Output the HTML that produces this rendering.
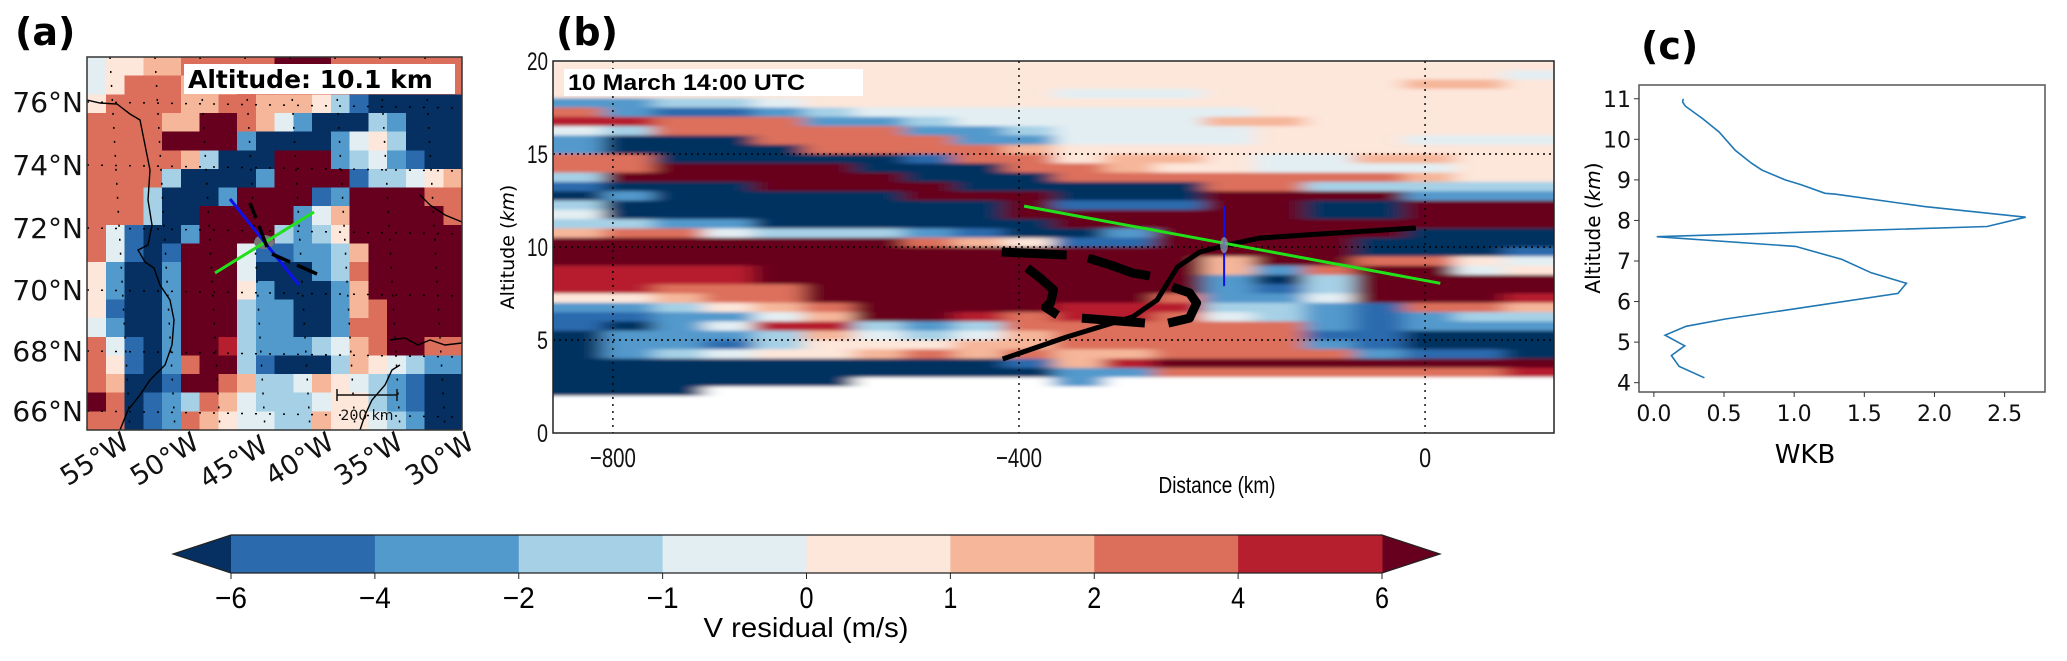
<!DOCTYPE html>
<html><head><meta charset="utf-8">
<style>
html,body{margin:0;padding:0;background:#fff;}
svg{display:block;}
.dj{font-family:"DejaVu Sans","Liberation Sans",sans-serif;}
.nw{font-family:"Liberation Sans Narrow","Liberation Sans",sans-serif;}
</style></head>
<body>
<svg id="fig" width="2067" height="661" viewBox="0 0 2067 661" xmlns="http://www.w3.org/2000/svg">
  <defs>
    <filter id="hblur" x="-2%" y="-2%" width="104%" height="104%"><feGaussianBlur stdDeviation="10 1.5"/></filter>
  </defs>
  <rect x="0" y="0" width="2067" height="661" fill="#fff"/>
  <text x="15" y="45" class="dj" font-size="38" font-weight="bold">(a)</text>
  <text x="556" y="45" class="dj" font-size="38" font-weight="bold">(b)</text>
  <text x="1641" y="59" class="dj" font-size="38" font-weight="bold">(c)</text>

  <g id="pa">
    <clipPath id="clipA"><rect x="87" y="57" width="375" height="373"/></clipPath>
    <g id="paCells" clip-path="url(#clipA)" shape-rendering="crispEdges"></g>
    <g id="paOver" clip-path="url(#clipA)"></g>
    <rect x="87" y="57" width="375" height="373" fill="none" stroke="#333" stroke-width="1.5"/>
    <rect x="184" y="64" width="271" height="30" fill="#fff"/>
    <text x="188" y="88" class="dj" font-size="25" font-weight="bold">Altitude: 10.1 km</text>
    <g class="dj" font-size="28" text-anchor="end" fill="#111">
      <text x="83" y="112">76°N</text>
      <text x="83" y="175">74°N</text>
      <text x="83" y="238">72°N</text>
      <text x="83" y="300">70°N</text>
      <text x="83" y="361">68°N</text>
      <text x="83" y="421">66°N</text>
    </g>
    <g class="dj" font-size="27" text-anchor="end" fill="#111">
      <text transform="translate(131,447) rotate(-32)">55°W</text>
      <text transform="translate(201,447) rotate(-32)">50°W</text>
      <text transform="translate(270,450) rotate(-32)">45°W</text>
      <text transform="translate(336,447) rotate(-32)">40°W</text>
      <text transform="translate(405,447) rotate(-32)">35°W</text>
      <text transform="translate(476,447) rotate(-32)">30°W</text>
    </g>
    <g stroke="#111" stroke-width="1.5">
      <line x1="337" y1="395" x2="397" y2="395"/><line x1="337" y1="389" x2="337" y2="401"/><line x1="397" y1="389" x2="397" y2="401"/>
    </g>
    <text x="367" y="420" class="dj" font-size="14" text-anchor="middle" fill="#111">200 km</text>
  </g>

  <g id="pb">
    <clipPath id="clipB"><rect x="553" y="61" width="1001" height="372"/></clipPath>
    <g clip-path="url(#clipB)">
      <g id="pbCells" filter="url(#hblur)"></g>
    </g>
    <g id="pbOver" clip-path="url(#clipB)"></g>
    <rect x="553" y="61" width="1001" height="372" fill="none" stroke="#222" stroke-width="1.5"/>
    <rect x="564" y="69" width="299" height="27" fill="#fff"/>
    <text x="568" y="90" class="nw" font-size="22" font-weight="bold" textLength="237" lengthAdjust="spacingAndGlyphs">10 March 14:00 UTC</text>
    <g id="pbTicks" class="nw" fill="#111"></g>
    <text x="1217" y="493" class="nw" font-size="23" text-anchor="middle" textLength="117" lengthAdjust="spacingAndGlyphs">Distance (km)</text>
    <text transform="translate(514,247) rotate(-90)" class="dj" font-size="19" text-anchor="middle">Altitude (<tspan font-style="italic">km</tspan>)</text>
  </g>

  <g id="pc">
    <rect x="1639" y="85" width="406" height="307" fill="none" stroke="#555" stroke-width="1.5"/>
    <g id="pcTicks" class="dj" fill="#111"></g>
    <path id="wkbLine" fill="none" stroke="#1f77b4" stroke-width="1.6"/>
    <text x="1805" y="463" class="dj" font-size="26" text-anchor="middle">WKB</text>
    <text transform="translate(1600,228) rotate(-90)" class="dj" font-size="20" text-anchor="middle">Altitude (<tspan font-style="italic">km</tspan>)</text>
  </g>

  <g id="cbar"></g>
  <text x="806" y="637" class="nw" font-size="28" text-anchor="middle" textLength="205" lengthAdjust="spacingAndGlyphs">V residual (m/s)</text>
</svg>

<script>
const classCodes = ['a','b','c','d','e','f','g','h','i','j'];
const classColors = ['#053061','#2a6aad','#5299cc','#a6d0e6','#e3eef3','#fde6da','#f5b69a','#dc6f5b','#b61f2e','#67001f'];
const cbBounds = [-6,-4,-2,-1,0,1,2,4,6];

const bRows = [
"ffffffffffffffffffff","fffffffffffffffffffe","fffffffffffffffffggf","ffffffffffeeefffffff",
"ccddefffffffffffffff","hcbbcdeeeeeeeeffffff","iihhhccdeeeeeggfffff","edhhhhhccdeeeeffffff",
"caaahhhhcceeeefffeee","caaaahhhhgffffffffff","hhaaaaabhhfggfeeggff","hhjjjjaaahhgffeeeeff",
"djjjjjjaaahhhhhhhgff","baaajjjjaaaaahhddddd","acaaaaajjjaaajjjjccc","daaaaaaaajbbbjjaajjj",
"eaaaaaaaajjjjjjaajjj","ddccaaaaaajjjjjjjjjj","ghhedddcbaacjjjjjaaa","jjjjjjjhgfbbjjjjaaaa",
"jjjjjjjjjjjjjjjjaaab","jjjjjjjjjjjjjgjjhhfe","iiiijjjjjjjjjgchjjef","iiiijjjjjjjjjcadjjjj",
"iihhhjjjjjjjjcbdjjjj","ffghhjjjjjjjhccejjji","ccdfghjjjjiiiddcbhhg","bbccegjjihiihedcbcdd",
"baceiidcdhhhhhhcbccc","acccdgedeghhhhhbbaaa","accbdfffgghhhhhcbaaa","acdeffghghgghhhhcbba",
"aaaaaaaaabgijjjjjjjj","aaaaaaaaaacchhhhhhhi","aaaaaa....c.........","aaa................."
];
const bDistMin = -859, bDistMax = 127, bAltTop = 20, bRowStep = 0.5;
const bXTicks = [-800,-400,0];
const bYTicks = [0,5,10,15,20];
const blackCurveDist = [-416,-353,-288,-264,-244,-222,-195,-163,-103,-9];
const blackCurveAlt  = [3.98,5.16,6.24,7.15,8.92,9.73,10.11,10.48,10.70,11.02];
const dashDist = [[-417,-353],[-332,-310,-288,-271],[-392,-379,-366,-369,-374,-362],[-338,-276],[-249,-232,-225,-232,-253]];
const dashAlt  = [[9.73,9.57],[9.41,9.03,8.6,8.44],[8.87,8.33,7.69,6.99,6.77,6.34],[6.18,5.91],[7.85,7.53,6.99,6.18,5.91]];
const greenDist = [-395,15], greenAlt = [12.2,8.05];
const blueDist = [-198,-198], blueAlt = [12.2,7.9];

const aRows = [
"effgghhhhhjjjhhhhhhh","efhhhggghhhhhhhhhhhh","fhhhhgghhgggfdbaaaaa","hhhhggjjhgecaaadcaaa",
"hhhhjjjjcaaaacefdaaa","hhhhhgdaaajjjcdecbaa","hhhhdaaaacjjjjbddefg","hhhdaaacjjjjbcjjjjhh",
"hhhdaajjjjjcegjjjjjh","hebaacjjjjdcdfjjjjjj","hebabjjjebbccdgjjjjj","fcaacjjjeaaacdhjjjjj",
"fcaacjjjfcaaacgjjjjj","fbaacjjjdccaacghjjjj","ecaacjjjdccaachhjjjj","hebacjjidcccdeghjjhh",
"hfbachjjdbaaadgfedcc","hgaabjjhgddegfedcbaa","jhabcdhgedddeffdcbaa","hhabchgfeeddgffedcaa"
];

const wkbAlt = [11.0,10.92,10.82,10.51,10.18,9.73,9.41,9.24,9.0,8.88,8.67,8.65,8.34,8.08,7.85,7.60,7.36,7.04,6.71,6.45,6.20,5.81,5.57,5.39,5.17,4.91,4.67,4.40,4.12];
const wkbVal = [0.21,0.205,0.224,0.347,0.465,0.58,0.696,0.77,0.936,1.05,1.22,1.29,1.93,2.65,2.375,0.02,1.01,1.34,1.55,1.80,1.74,0.98,0.51,0.23,0.08,0.22,0.125,0.18,0.36];
const cXTicks = [0.0,0.5,1.0,1.5,2.0,2.5];
const cYTicks = [4,5,6,7,8,9,10,11];

const NS = 'http://www.w3.org/2000/svg';
function mk(tag, parent){ const e=document.createElementNS(NS,tag); parent.appendChild(e); return e; }
function colorOf(ch){ const k=classCodes.indexOf(ch); return k<0?null:classColors[k]; }
function fmt(v){ return v < 0 ? '\u2212' + Math.abs(v) : String(v); }

const bx = d => 553 + (d - bDistMin) * (1001 / (bDistMax - bDistMin));
const by = a => 433 - a * 18.6;
const ax = c => 87 + c * 375 / 20;
const ay = r => 57 + r * 373 / 20;
const cx = v => 1639 + (v + 0.106) * 140.3;
const cy = a => 392 - (a - 3.77) * 40.56;
const cbx = i => 231 + i * (1151 / (cbBounds.length - 1));

const paCells = document.getElementById('paCells');
aRows.forEach((row, r) => {
  for (let c = 0; c < 20; c++) {
    const col = colorOf(row.charAt(c)) || classColors[5];
    const el = mk('rect', paCells);
    
    
    el.setAttribute('x', ax(c)); el.setAttribute('y', ay(r));
    el.setAttribute('width', ax(c+1)-ax(c)+0.6); el.setAttribute('height', ay(r+1)-ay(r)+0.6);
    el.setAttribute('fill', col);
  }
});
const paOver = document.getElementById('paOver');
[102,165,228,290,351,411].forEach(y => {
  const l = mk('line', paOver);
  
  
  l.setAttribute('x1',87); l.setAttribute('x2',462); l.setAttribute('y1',y); l.setAttribute('y2',y+6);
  l.setAttribute('stroke','#000'); l.setAttribute('stroke-width','1.5'); l.setAttribute('stroke-dasharray','2,12');
});
[120,165,210,255,300,345,390,435].forEach(x => {
  const l = mk('line', paOver);
  
  
  l.setAttribute('x1',x-10); l.setAttribute('x2',x+10); l.setAttribute('y1',57); l.setAttribute('y2',430);
  l.setAttribute('stroke','#000'); l.setAttribute('stroke-width','1.5'); l.setAttribute('stroke-dasharray','2,12');
});
const coasts = [
 "87,100 100,103 117,104 130,114 140,120 146,150 150,170 148,200 152,225 148,245 138,250 145,262 154,268 160,285 170,300 174,320 172,345 165,365 150,380 140,395 128,410 120,430",
 "420,195 430,205 445,215 462,222",
 "390,340 405,338 418,345 430,340 445,345 462,343",
 "360,430 365,415 372,400 385,385 392,370 400,365"
];
coasts.forEach(p => {
  const pl = mk('polyline', paOver);
  
  
  pl.setAttribute('points', p); pl.setAttribute('fill','none'); pl.setAttribute('stroke','#000'); pl.setAttribute('stroke-width','1.4');
});
(function(){
  const e = mk('ellipse', paOver);
  
  
  e.setAttribute('cx',264); e.setAttribute('cy',242); e.setAttribute('rx',10); e.setAttribute('ry',7); e.setAttribute('fill','#777');
  const g = mk('line', paOver);
  
  
  g.setAttribute('x1',215); g.setAttribute('y1',273); g.setAttribute('x2',314); g.setAttribute('y2',212);
  g.setAttribute('stroke','#22e01a'); g.setAttribute('stroke-width','3');
  const b = mk('line', paOver);
  
  
  b.setAttribute('x1',230); b.setAttribute('y1',199); b.setAttribute('x2',299); b.setAttribute('y2',285);
  b.setAttribute('stroke','#1010e8'); b.setAttribute('stroke-width','3');
  [[250,203,256,218],[259,226,267,247],[272,254,290,262],[297,265,317,274]].forEach(s => {
    const d = mk('line', paOver);
    
    
    d.setAttribute('x1',s[0]); d.setAttribute('y1',s[1]); d.setAttribute('x2',s[2]); d.setAttribute('y2',s[3]);
    d.setAttribute('stroke','#000'); d.setAttribute('stroke-width','3.5');
  });
})();

const pbCells = document.getElementById('pbCells');
const nCols = 20, dDist = (bDistMax - bDistMin) / nCols;
bRows.forEach((row, r) => {
  const aTop = bAltTop - r * bRowStep, aBot = aTop - bRowStep;
  for (let c = 0; c < nCols; c++) {
    let ch = row.charAt(c);
    let col = colorOf(ch);
    if (!col) col = '#ffffff';
    const d0 = bDistMin + c * dDist, d1 = d0 + dDist;
    const extL = c === 0 ? 30 : 0, extR = c === nCols-1 ? 30 : 0;
    const el = mk('rect', pbCells);
    
    
    el.setAttribute('x', bx(d0) - extL); el.setAttribute('y', by(aTop));
    el.setAttribute('width', bx(d1)-bx(d0)+0.6+extL+extR); el.setAttribute('height', by(aBot)-by(aTop)+0.6);
    el.setAttribute('fill', col);
  }
});
(function(){
  const w = mk('rect', pbCells);
  
  
  w.setAttribute('x', 520); w.setAttribute('y', by(2)); w.setAttribute('width', 1070); w.setAttribute('height', 60); w.setAttribute('fill', '#ffffff');
})();
const pbOver = document.getElementById('pbOver');
bXTicks.forEach(t => {
  const l = mk('line', pbOver);
  
  
  l.setAttribute('x1',bx(t)); l.setAttribute('x2',bx(t)); l.setAttribute('y1',61); l.setAttribute('y2',433);
  l.setAttribute('stroke','#000'); l.setAttribute('stroke-width','1.4'); l.setAttribute('stroke-dasharray','2,5');
});
bYTicks.slice(1,4).forEach(t => {
  const l = mk('line', pbOver);
  
  
  l.setAttribute('x1',553); l.setAttribute('x2',1554); l.setAttribute('y1',by(t)); l.setAttribute('y2',by(t));
  l.setAttribute('stroke','#000'); l.setAttribute('stroke-width','1.4'); l.setAttribute('stroke-dasharray','2,4');
});
function pathFrom(ds, as){ return ds.map((d,i)=>(i?'L':'M')+bx(d).toFixed(1)+','+by(as[i]).toFixed(1)).join(' '); }
dashDist.forEach((ds, k) => {
  const p = mk('path', pbOver);
  
  
  p.setAttribute('d', pathFrom(ds, dashAlt[k])); p.setAttribute('fill','none');
  p.setAttribute('stroke','#000'); p.setAttribute('stroke-width','9'); p.setAttribute('stroke-linejoin','round');
});
(function(){
  const p = mk('path', pbOver);
  
  
  p.setAttribute('d', pathFrom(blackCurveDist, blackCurveAlt)); p.setAttribute('fill','none');
  p.setAttribute('stroke','#000'); p.setAttribute('stroke-width','5'); p.setAttribute('stroke-linejoin','round');
  const g = mk('path', pbOver);
  
  
  g.setAttribute('d', pathFrom(greenDist, greenAlt)); g.setAttribute('stroke','#22e01a'); g.setAttribute('stroke-width','3');
  const b = mk('path', pbOver);
  
  
  b.setAttribute('d', pathFrom(blueDist, blueAlt)); b.setAttribute('stroke','#1010e8'); b.setAttribute('stroke-width','2');
  const e = mk('ellipse', pbOver);
  
  
  e.setAttribute('cx', bx(-198)); e.setAttribute('cy', by(10.1)); e.setAttribute('rx',4); e.setAttribute('ry',8); e.setAttribute('fill','#8891a0'); e.setAttribute('opacity','0.8');
})();
const pbTicks = document.getElementById('pbTicks');
bXTicks.forEach(t => {
  const tx = mk('text', pbTicks);
  
  
  tx.setAttribute('x', bx(t)); tx.setAttribute('y', 467); tx.setAttribute('font-size','27'); tx.setAttribute('text-anchor','middle');
  tx.setAttribute('textLength', t === 0 ? 12 : 46); tx.setAttribute('lengthAdjust','spacingAndGlyphs');
  tx.textContent = fmt(t);
});
bYTicks.forEach(t => {
  const tx = mk('text', pbTicks);
  
  
  tx.setAttribute('x', 548); tx.setAttribute('y', by(t)+9); tx.setAttribute('font-size','25'); tx.setAttribute('text-anchor','end');
  tx.setAttribute('textLength', t >= 10 ? 21 : 11); tx.setAttribute('lengthAdjust','spacingAndGlyphs');
  tx.textContent = String(t);
});

const pcTicks = document.getElementById('pcTicks');
cXTicks.forEach(t => {
  const l = mk('line', pcTicks);
  
  
  l.setAttribute('x1',cx(t)); l.setAttribute('x2',cx(t)); l.setAttribute('y1',392); l.setAttribute('y2',397); l.setAttribute('stroke','#333');
  const tx = mk('text', pcTicks);
  
  
  tx.setAttribute('x', cx(t)); tx.setAttribute('y', 421); tx.setAttribute('font-size','22'); tx.setAttribute('text-anchor','middle');
  tx.textContent = t.toFixed(1);
});
cYTicks.forEach(t => {
  const l = mk('line', pcTicks);
  
  
  l.setAttribute('x1',1634); l.setAttribute('x2',1639); l.setAttribute('y1',cy(t)); l.setAttribute('y2',cy(t)); l.setAttribute('stroke','#333');
  const tx = mk('text', pcTicks);
  
  
  tx.setAttribute('x', 1631); tx.setAttribute('y', cy(t)+8); tx.setAttribute('font-size','22'); tx.setAttribute('text-anchor','end');
  tx.textContent = String(t);
});
document.getElementById('wkbLine').setAttribute('d', wkbVal.map((v,i)=>(i?'L':'M')+cx(v).toFixed(1)+','+cy(wkbAlt[i]).toFixed(1)).join(' '));

const cbar = document.getElementById('cbar');
(function(){
  const lt = mk('polygon', cbar);
  
  
  lt.setAttribute('points', '231,535 173,554 231,573'); lt.setAttribute('fill', classColors[0]);
  const rt = mk('polygon', cbar);
  
  
  rt.setAttribute('points', '1382,535 1440,554 1382,573'); rt.setAttribute('fill', classColors[9]);
})();
for (let i = 0; i < cbBounds.length - 1; i++) {
  const r = mk('rect', cbar);
  
  
  r.setAttribute('x', cbx(i)); r.setAttribute('y', 535); r.setAttribute('width', cbx(i+1)-cbx(i)+0.5); r.setAttribute('height', 38);
  r.setAttribute('fill', classColors[i+1]);
}
(function(){
  const o = mk('polygon', cbar);
  
  
  o.setAttribute('points', '231,535 1382,535 1440,554 1382,573 231,573 173,554');
  o.setAttribute('fill','none'); o.setAttribute('stroke','#222'); o.setAttribute('stroke-width','1.2');
})();
cbBounds.forEach((v, i) => {
  const l = mk('line', cbar);
  
  
  l.setAttribute('x1', cbx(i)); l.setAttribute('x2', cbx(i)); l.setAttribute('y1', 573); l.setAttribute('y2', 579); l.setAttribute('stroke','#222');
  const t = mk('text', cbar);
  
  
  t.setAttribute('x', cbx(i)); t.setAttribute('y', 608); t.setAttribute('font-size','30'); t.setAttribute('text-anchor','middle');
  t.setAttribute('class','nw');
  t.setAttribute('textLength', v < 0 ? 32 : 14); t.setAttribute('lengthAdjust','spacingAndGlyphs');
  t.textContent = fmt(v);
});
</script>
</body></html>
